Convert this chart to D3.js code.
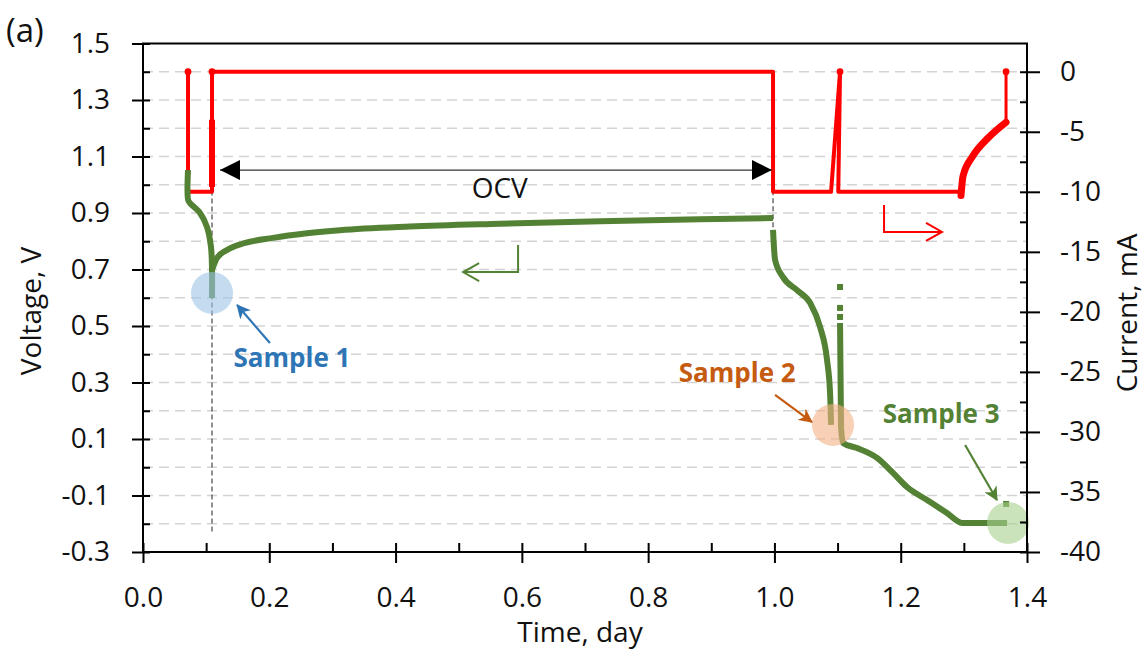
<!DOCTYPE html>
<html>
<head>
<meta charset="utf-8">
<script src="https://cdn.jsdelivr.net/npm/d3@7"></script>
<style>
  body { margin: 0; background: #fff; }
  text { font-family: "Open Sans", sans-serif; }
</style>
</head>
<body>
<svg id="chart" width="1144" height="653"></svg>
<script>
// ---- data (time in days, voltage in V, current in mA) ----
const voltDischarge1 = [[0.0713,1.052],[0.0715,0.946],[0.0744,0.935],[0.0903,0.900],[0.1014,0.850],[0.1077,0.779],[0.1093,0.698],[0.1093,0.599]];
const voltOCV = [[0.1093,0.698],[0.1172,0.741],[0.1330,0.769],[0.1584,0.792],[0.2059,0.812],[0.2597,0.828],[0.3120,0.839],[0.4229,0.852],[0.5654,0.862],[0.7238,0.871],[0.8822,0.878],[0.9978,0.882]];
const voltDischarge2 = [[0.9978,0.840],[1.0010,0.734],[1.0136,0.673],[1.0358,0.627],[1.0564,0.582],[1.0722,0.497],[1.0833,0.380],[1.0881,0.263],[1.0897,0.150]];
const voltDischarge3 = [[1.1039,0.511],[1.1055,0.142],[1.1086,0.086],[1.1308,0.068],[1.1625,0.033],[1.1878,-0.020],[1.2100,-0.070],[1.2417,-0.116],[1.2733,-0.162],[1.2971,-0.197],[1.3684,-0.197]];
const voltDots = [[1.1039,0.638],[1.1039,0.564],[1.1039,0.532],[1.3670,-0.130]];

const currentSteps = [[0.0713,0],[0.0713,-10],[0.1093,-10],[0.1093,0],[0.9978,0],[0.9978,-10],[1.0897,-10],[1.1039,0],[1.1011,-10],[1.2955,-10]];
const currentDense = [[0.1093,-4],[0.1093,-9.6]];
const currentTaper = [[1.2955,-10.3],[1.2987,-8.7],[1.3145,-7.0],[1.3367,-5.6],[1.3668,-4.2]];
const currentEnd = [[1.3668,-4.2],[1.3668,0]];
const currentDots = [[0.0713,0],[0.1093,0],[1.1039,0],[1.3668,0]];

const voltTicks = [-0.3,-0.1,0.1,0.3,0.5,0.7,0.9,1.1,1.3,1.5];
const voltMinor = [-0.2,0,0.2,0.4,0.6,0.8,1.0,1.2,1.4];
const gridLevels = [-0.2,-0.1,0,0.1,0.2,0.3,0.4,0.5,0.6,0.7,0.8,0.9,1.0,1.1,1.2,1.3,1.4];
const currentTicks = [0,-5,-10,-15,-20,-25,-30,-35,-40];
const currentMinor = [-2.5,-7.5,-12.5,-17.5,-22.5,-27.5,-32.5,-37.5];
const timeTicks = [0,0.2,0.4,0.6,0.8,1.0,1.2,1.4];
const timeMinor = [0.1,0.3,0.5,0.7,0.9,1.1,1.3];

// annotations (data coordinates)
const samples = [
  {name:"Sample 1", t:0.1093, v:0.617, label:[0.236,0.355], from:[0.201,0.440], to:[0.149,0.574], text:"#2e75b6", fill:"#9dc3e6"},
  {name:"Sample 2", t:1.0928, v:0.150, label:[0.941,0.302], from:[1.001,0.256], to:[1.0595,0.160], text:"#c55a11", fill:"#f4b183"},
  {name:"Sample 3", t:1.3700, v:-0.197, label:[1.264,0.157], from:[1.302,0.079], to:[1.3525,-0.116], text:"#548235", fill:"#a9d18e"}
];
const restLines = [[0.1093,0.98,-0.229],[0.9978,1.122,0.828]];
const ocvSpan = [0.122, 0.996, 1.052];
const greenHint = [[0.594,0.787],[0.594,0.691],[0.507,0.691]];
const redHint = [[1.1736,0.928],[1.1736,0.833],[1.2654,0.833]];

const green = "#548235", red = "#ff0000";

const svg = d3.select("#chart");
const x = d3.scaleLinear().domain([0, 1.4]).range([143, 1027]);
const y = d3.scaleLinear().domain([-0.3, 1.5]).range([552, 43.5]);
const yI = d3.scaleLinear().domain([-40, 0]).range([y(-0.3), y(1.4)]);

const defs = svg.append("defs");
function addMarker(id, color, path, w, h, refX) {
  defs.append("marker").attr("id", id)
    .attr("viewBox", "0 0 " + w + " " + h).attr("refX", refX).attr("refY", h / 2)
    .attr("markerWidth", w).attr("markerHeight", h).attr("markerUnits", "userSpaceOnUse")
    .attr("orient", "auto-start-reverse")
    .append("path").attr("d", path).attr("fill", color);
}
addMarker("tri", "#000", "M0,0 L20,10 L0,20 Z", 20, 20, 20);
samples.forEach((s, i) => addMarker("sm" + i, s.text, "M0,0 L14,7 L0,14 L4,7 Z", 14, 14, 13));

// gridlines
svg.append("g").selectAll("line").data(gridLevels).join("line")
  .attr("x1", x(0)).attr("x2", x(1.4))
  .attr("y1", d => y(d)).attr("y2", d => y(d))
  .attr("stroke", "#d3d3d3").attr("stroke-width", 1.5).attr("stroke-dasharray", "10,6");

// dashed rest markers
svg.append("g").selectAll("line").data(restLines).join("line")
  .attr("x1", d => x(d[0])).attr("x2", d => x(d[0]))
  .attr("y1", d => y(d[1])).attr("y2", d => y(d[2]))
  .attr("stroke", "#555").attr("stroke-width", 1.3).attr("stroke-dasharray", "5,3");

// current (right axis)
const lineI = d3.line().x(d => x(d[0])).y(d => yI(d[1]));
svg.append("path").attr("d", lineI(currentSteps)).attr("fill", "none")
  .attr("stroke", red).attr("stroke-width", 4).attr("stroke-linejoin", "round");
svg.append("path").attr("d", lineI(currentDense)).attr("fill", "none")
  .attr("stroke", red).attr("stroke-width", 6);
svg.append("path").attr("d", d3.line().x(d => x(d[0])).y(d => yI(d[1])).curve(d3.curveMonotoneX)(currentTaper))
  .attr("fill", "none").attr("stroke", red).attr("stroke-width", 7).attr("stroke-linecap", "round");
svg.append("path").attr("d", lineI(currentEnd)).attr("fill", "none")
  .attr("stroke", red).attr("stroke-width", 3);
svg.append("g").selectAll("circle").data(currentDots).join("circle")
  .attr("cx", d => x(d[0])).attr("cy", d => yI(d[1])).attr("r", 3.4).attr("fill", red);

// voltage (left axis)
const lineV = d3.line().x(d => x(d[0])).y(d => y(d[1]));
svg.append("path").attr("d", lineV.curve(d3.curveCatmullRom)(voltDischarge1)).attr("fill", "none")
  .attr("stroke", green).attr("stroke-width", 6).attr("stroke-linejoin", "round");
[voltOCV, voltDischarge2, voltDischarge3].forEach(seg => {
  svg.append("path").attr("d", lineV.curve(d3.curveMonotoneX)(seg)).attr("fill", "none")
    .attr("stroke", green).attr("stroke-width", 6).attr("stroke-linejoin", "round");
});
svg.append("g").selectAll("rect").data(voltDots).join("rect")
  .attr("x", d => x(d[0]) - 3).attr("y", d => y(d[1]) - 3)
  .attr("width", 6).attr("height", 6).attr("fill", green);

// sample circles, labels and arrows
samples.forEach((s, i) => {
  svg.append("circle").attr("cx", x(s.t)).attr("cy", y(s.v)).attr("r", 21)
    .attr("fill", s.fill).attr("fill-opacity", 0.6);
  svg.append("line")
    .attr("x1", x(s.from[0])).attr("y1", y(s.from[1]))
    .attr("x2", x(s.to[0])).attr("y2", y(s.to[1]))
    .attr("stroke", s.text).attr("stroke-width", 2.2).attr("marker-end", "url(#sm" + i + ")");
  svg.append("text").attr("x", x(s.label[0])).attr("y", y(s.label[1]))
    .attr("text-anchor", "middle").attr("font-size", 26).attr("font-weight", 700)
    .attr("fill", s.text).text(s.name);
});

// OCV double arrow
svg.append("line")
  .attr("x1", x(ocvSpan[0])).attr("x2", x(ocvSpan[1]))
  .attr("y1", y(ocvSpan[2])).attr("y2", y(ocvSpan[2]))
  .attr("stroke", "#333").attr("stroke-width", 1.2)
  .attr("marker-start", "url(#tri)").attr("marker-end", "url(#tri)");
svg.append("text").attr("x", x(0.565)).attr("y", y(0.988)).attr("dy", "0.35em")
  .attr("text-anchor", "middle").attr("font-size", 28).attr("fill", "#111").text("OCV");

// axis hint arrows
const hint = d3.line().x(d => x(d[0])).y(d => y(d[1]));
svg.append("path").attr("d", hint(greenHint)).attr("fill", "none")
  .attr("stroke", green).attr("stroke-width", 2);
svg.append("path").attr("d", hint(redHint)).attr("fill", "none")
  .attr("stroke", red).attr("stroke-width", 2);
function chevron(tip, dir, color) {
  const tx = x(tip[0]), ty = y(tip[1]);
  svg.append("path")
    .attr("d", "M" + (tx - dir * 16) + "," + (ty - 9) + "L" + tx + "," + ty + "L" + (tx - dir * 16) + "," + (ty + 9))
    .attr("fill", "none").attr("stroke", color).attr("stroke-width", 2);
}
chevron(greenHint[2], -1, green);
chevron(redHint[2], 1, red);

// axes
const fmt1 = d => d.toFixed(1);
function styleAxis(g) {
  g.select(".domain").remove();
  g.selectAll(".tick line").attr("stroke", "#000").attr("stroke-width", 2);
  g.selectAll("text").attr("font-size", 28).attr("fill", "#111")
    .attr("font-family", "'Open Sans', sans-serif");
}
svg.append("g").attr("transform", "translate(143,0)")
  .call(d3.axisLeft(y).tickValues(voltTicks).tickSize(11).tickPadding(22).tickFormat(fmt1)).call(styleAxis);
svg.append("g").attr("transform", "translate(143,0)")
  .call(d3.axisLeft(y).tickValues(voltTicks.concat(voltMinor)).tickSize(-7).tickFormat("")).call(styleAxis);
svg.append("g").attr("transform", "translate(1027,0)")
  .call(d3.axisRight(yI).tickValues(currentTicks).tickSize(13).tickPadding(20).tickFormat(d => String(d))).call(styleAxis);
svg.append("g").attr("transform", "translate(1027,0)")
  .call(d3.axisRight(yI).tickValues(currentTicks.concat(currentMinor)).tickSize(-7).tickFormat("")).call(styleAxis);
svg.append("g").attr("transform", "translate(0,552)")
  .call(d3.axisBottom(x).tickValues(timeTicks).tickSize(11).tickPadding(24).tickFormat(fmt1)).call(styleAxis);
svg.append("g").attr("transform", "translate(0,552)")
  .call(d3.axisBottom(x).tickValues(timeTicks.concat(timeMinor)).tickSize(-9).tickFormat("")).call(styleAxis);

svg.append("rect").attr("x", 143).attr("y", 43.5).attr("width", 884).attr("height", 508.5)
  .attr("fill", "none").attr("stroke", "#000").attr("stroke-width", 2);

// titles
svg.append("text").attr("x", 580).attr("y", 642).attr("text-anchor", "middle")
  .attr("font-size", 28).attr("fill", "#111").text("Time, day");
svg.append("text").attr("transform", "translate(41,311) rotate(-90)").attr("text-anchor", "middle")
  .attr("font-size", 28).attr("fill", "#111").text("Voltage, V");
svg.append("text").attr("transform", "translate(1137,313) rotate(-90)").attr("text-anchor", "middle")
  .attr("font-size", 28).attr("fill", "#111").text("Current, mA");
svg.append("text").attr("x", 6).attr("y", 42).attr("font-size", 33).attr("fill", "#111").text("(a)");
</script>
</body>
</html>
